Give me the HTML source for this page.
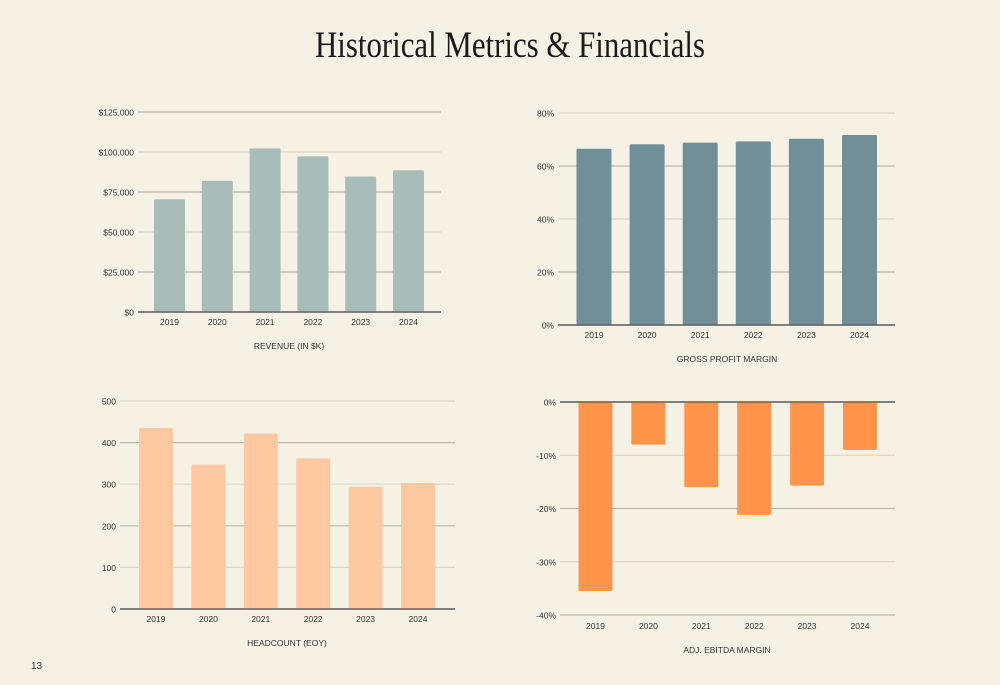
<!DOCTYPE html>
<html><head><meta charset="utf-8">
<style>
html,body{margin:0;padding:0;background:#f5f1e4;}
svg{display:block;font-family:"Liberation Sans",sans-serif;}
</style></head>
<body>
<svg id="s" width="1000" height="685" viewBox="0 0 1000 685">
<rect width="1000" height="685" fill="#f5f1e4"/>
<text x="510" y="57" text-anchor="middle" font-family="Liberation Serif,serif" font-size="37" fill="#1a1a1a" textLength="390" lengthAdjust="spacingAndGlyphs">Historical Metrics &amp; Financials</text>
<text x="31" y="669" font-size="10" fill="#333">13</text>
</svg>
<script>
const years = ["2019","2020","2021","2022","2023","2024"];
const revenueValues = [70500, 82000, 102300, 97300, 84700, 88500];
const revenueTicks = [0, 25000, 50000, 75000, 100000, 125000];
const revenueTickLabels = ["$0","$25,000","$50,000","$75,000","$100,000","$125,000"];
const gpmValues = [66.5, 68.2, 68.8, 69.3, 70.3, 71.7];
const gpmTicks = [0, 20, 40, 60, 80];
const gpmTickLabels = ["0%","20%","40%","60%","80%"];
const headcountValues = [435, 347, 422, 362, 294, 303];
const headcountTicks = [0, 100, 200, 300, 400, 500];
const headcountTickLabels = ["0","100","200","300","400","500"];
const ebitdaValues = [-35.5, -8, -16, -21.2, -15.7, -9];
const ebitdaTicks = [0, -10, -20, -30, -40];
const ebitdaTickLabels = ["0%","-10%","-20%","-30%","-40%"];

const NS = "http://www.w3.org/2000/svg";
const svg = document.getElementById('s');
function mk(tag, attrs, parent){
  const e = document.createElementNS(NS, tag);
  for (const k in attrs) e.setAttribute(k, attrs[k]);
  (parent||svg).appendChild(e);
  return e;
}
function chart(cfg){
  const g = mk('g', {});
  
  
  const yMin = Math.min(...cfg.ticks), yMax = Math.max(...cfg.ticks);
  const y = v => cfg.bottom - (v - yMin) / (yMax - yMin) * (cfg.bottom - cfg.top);
  const xc = i => cfg.first + cfg.step * i;
  cfg.ticks.forEach((t, i) => {
    const yy = y(t);
    const strong = (t === cfg.base);
    const ln = mk('line', {x1: cfg.x0, x2: cfg.x1, y1: yy, y2: yy,
      stroke: strong ? '#555' : (i % 2 === (cfg.altStart||0) ? '#bdb8ad' : '#dcd7c9'),
      'stroke-width': 1.2}, g);
    
    
    const tx = mk('text', {x: cfg.x0 - 4, y: yy + 3.5, 'text-anchor': 'end', 'font-size': 8.5, fill: '#333'}, g);
    tx.textContent = cfg.tickLabels[i];
    
    
  });
  cfg.values.forEach((v, i) => {
    const y0 = y(cfg.base), y1 = y(v);
    const r = mk('rect', {x: xc(i) - cfg.bw / 2, y: Math.min(y0, y1), width: cfg.bw,
      height: Math.abs(y1 - y0), fill: cfg.color, rx: 1.5}, g);
    
    
    const tx = mk('text', {x: xc(i), y: cfg.labelY, 'text-anchor': 'middle', 'font-size': 8.5, fill: '#333'}, g);
    tx.textContent = cfg.cats[i];
    
    
  });
  const by = y(cfg.base);
  const bl = mk('line', {x1: cfg.x0, x2: cfg.x1, y1: by, y2: by, stroke: '#555', 'stroke-width': 1.2}, g);
  
  
  const tt = mk('text', {x: cfg.titleX, y: cfg.titleY, 'text-anchor': 'middle', 'font-size': 8.5, fill: '#333'}, g);
  tt.textContent = cfg.title;
  
  
}
chart({name:'revenue-chart', cats: years, values: revenueValues, ticks: revenueTicks, tickLabels: revenueTickLabels,
  x0:138, x1:441, top:112, bottom:312, base:0, bw:31, first:169.5, step:47.8, color:'#a9bdb8', labelY:325, titleY:349, titleX:289, title:'REVENUE (IN $K)', altStart:1});
chart({name:'gross-margin-chart', cats: years, values: gpmValues, ticks: gpmTicks, tickLabels: gpmTickLabels,
  x0:558, x1:895, top:113, bottom:325, base:0, bw:35, first:594, step:53.1, color:'#708f98', labelY:338, titleY:362, titleX:727, title:'GROSS PROFIT MARGIN', altStart:1});
chart({name:'headcount-chart', cats: years, values: headcountValues, ticks: headcountTicks, tickLabels: headcountTickLabels,
  x0:120, x1:455, top:401, bottom:609, base:0, bw:34, first:156, step:52.4, color:'#fec8a0', labelY:622, titleY:646, titleX:287, title:'HEADCOUNT (EOY)', altStart:0});
chart({name:'ebitda-margin-chart', cats: years, values: ebitdaValues, ticks: ebitdaTicks, tickLabels: ebitdaTickLabels,
  x0:560, x1:895, top:402, bottom:615, base:0, bw:34, first:595.5, step:52.9, color:'#fe954b', labelY:629, titleY:653, titleX:727, title:'ADJ. EBITDA MARGIN', altStart:0});
</script>
</body></html>
